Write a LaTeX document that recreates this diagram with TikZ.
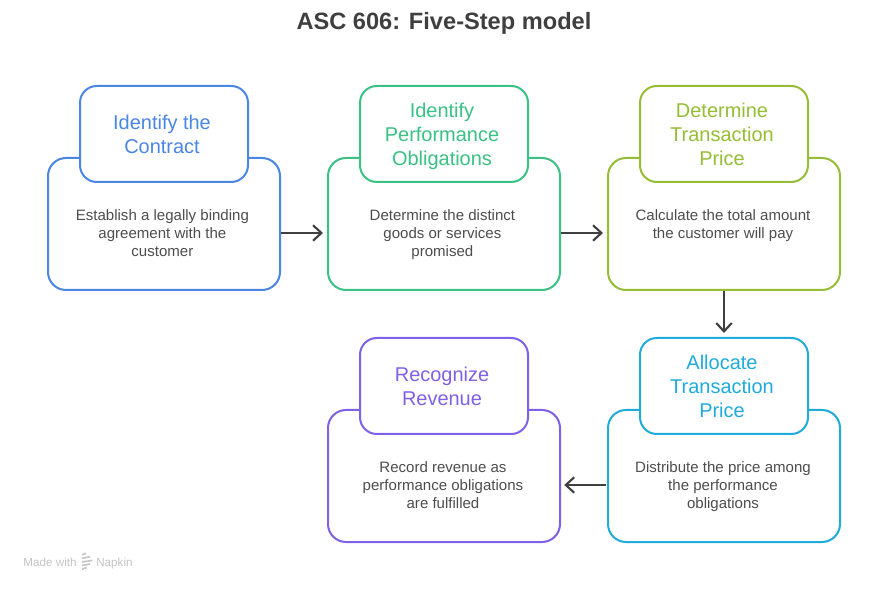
\documentclass[tikz,border=0pt]{standalone}
\usepackage{fontspec}
\setmainfont{Liberation Sans}
\definecolor{ascText}{HTML}{4D4D4D}
\definecolor{ascTitle}{HTML}{3F3F3F}
\definecolor{ascArrow}{HTML}{404040}
\definecolor{ascMark}{HTML}{C4C4C4}
\definecolor{ascBlue}{HTML}{4A86E2}
\definecolor{ascGreen}{HTML}{39C283}
\definecolor{ascOlive}{HTML}{95BD35}
\definecolor{ascCyan}{HTML}{1FABDC}
\definecolor{ascPurple}{HTML}{7F60E6}
\usetikzlibrary{calc,positioning,arrows.meta}

\begin{document}
\begin{tikzpicture}[
  card/.style={rounded corners=0.45cm, draw=#1, line width=0.05cm, fill=white,
    minimum width=5.8cm, minimum height=3.3cm, inner sep=0pt},
  head/.style={rounded corners=0.42cm, draw=#1, line width=0.05cm, fill=white,
    minimum width=4.2cm, minimum height=2.4cm, inner sep=0pt},
  headtext/.style={text=#1, align=center, inner sep=0pt, xshift=-0.05cm, yshift=-0.1cm,
    execute at begin node=\strut, execute at end node=\strut,
    font=\fontsize{14.2}{17.1}\selectfont},
  note/.style={text=ascText, align=center, inner sep=0pt, yshift=-0.075cm,
    execute at begin node=\strut, execute at end node=\strut,
    font=\fontsize{10.7}{12.8}\selectfont},
  footmark/.style={font=\fontsize{8.3}{10}\selectfont, text=ascMark, anchor=base west, inner sep=0pt},
  arr/.style={-{Straight Barb[length=6pt,width=11pt,line width=1.5pt]}, line width=0.05cm, color=ascArrow}
]
  \path[use as bounding box, fill=white] (0,0) rectangle (22.2,14.75);

  \node[font=\fontsize{16.8}{20}\selectfont\bfseries, text=ascTitle] (title) at (11.1,14.17) {ASC 606: Five-Step model};

  % Upper row
  \node[card=ascBlue] (contract) at (4.1,9.15) {};
  \node[head=ascBlue, label={[headtext=ascBlue]center:{Identify the\\Contract}}] (contractHead) at (4.1,11.4) {};
  \node[note] (contractNote) at (4.06,8.925) {Establish a legally binding\\agreement with the\\customer};

  \node[card=ascGreen] (oblig) at (11.1,9.15) {};
  \node[head=ascGreen, label={[headtext=ascGreen]center:{Identify\\Performance\\Obligations}}] (obligHead) at (11.1,11.4) {};
  \node[note] (obligNote) at (11.06,8.925) {Determine the distinct\\goods or services\\promised};

  \node[card=ascOlive] (price) at (18.1,9.15) {};
  \node[head=ascOlive, label={[headtext=ascOlive]center:{Determine\\Transaction\\Price}}] (priceHead) at (18.1,11.4) {};
  \node[note] (priceNote) at (18.075,9.15) {Calculate the total amount\\the customer will pay};

  % Lower row
  \node[card=ascCyan] (alloc) at (18.1,2.85) {};
  \node[head=ascCyan, label={[headtext=ascCyan]center:{Allocate\\Transaction\\Price}}] (allocHead) at (18.1,5.1) {};
  \node[note] (allocNote) at (18.075,2.625) {Distribute the price among\\the performance\\obligations};

  \node[card=ascPurple] (revenue) at (11.1,2.85) {};
  \node[head=ascPurple, label={[headtext=ascPurple]center:{Recognize\\Revenue}}] (revenueHead) at (11.1,5.1) {};
  \node[note] (revenueNote) at (11.075,2.625) {Record revenue as\\performance obligations\\are fulfilled};

  \draw[arr, shorten <=0.01cm, shorten >=0.1cm] ([yshift=-0.225cm]contract.east) -- ([yshift=-0.225cm]oblig.west);
  \draw[arr, shorten <=0.01cm, shorten >=0.1cm] ([yshift=-0.225cm]oblig.east) -- ([yshift=-0.225cm]price.west);
  \draw[arr, shorten <=0.01cm, shorten >=0.1cm] (price.south) -- (allocHead.north);
  \draw[arr, shorten <=0.03cm, shorten >=0.08cm] ([yshift=-0.225cm]alloc.west) -- ([yshift=-0.225cm]revenue.east);

  % Footer mark
  \node[footmark] (madeWith) at (0.58,0.58) {Made with};
  \node[footmark] (napkin) at (2.4,0.58) {Napkin};
  \foreach \y/\w in {0.52/0.12,0.61/0.2,0.7/0.26,0.79/0.2,0.88/0.1}
    \draw[ascMark, line width=0.04cm] (2.05,\y) -- ++(\w,0.04);
\end{tikzpicture}
\end{document}
